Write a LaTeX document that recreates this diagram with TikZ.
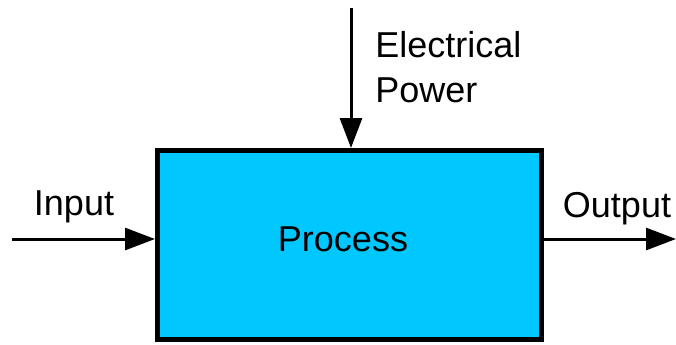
\documentclass[tikz,border=0pt]{standalone}
\usepackage{fontspec}
\setmainfont{Liberation Sans}
\usetikzlibrary{arrows.meta,positioning}
\definecolor{procblue}{RGB}{0,200,255}

\begin{document}
\begin{tikzpicture}[x=0.5pt,y=-0.5pt,
    process/.style={rectangle, draw, line width=2.5pt, fill=procblue,
                    minimum width=192pt, minimum height=94.5pt},
    arrow/.style={-{Triangle[length=15pt,width=11pt]}, line width=1.5pt},
    label/.style={font=\fontsize{18}{22.5}\selectfont, inner sep=0pt}
]
\useasboundingbox (0,0) rectangle (676,344);

% Process block
\node[process] (proc) at (349.5,245) {};
\node[label] (proctxt) at ([xshift=-3.25pt,yshift=3pt]proc.center) {Process};

% Free ends
\coordinate (pwr) at (351,8);
\coordinate (in) at (12,239);
\coordinate (out) at (676,239);

% Connections
\draw[arrow] (pwr) -- (pwr |- proc.north);
\draw[arrow] (in) -- (in -| proc.west);
\draw[arrow] (out -| proc.east) -- (out);

% Labels
\node[label, anchor=base] (inlbl) at (74,215) {Input};
\node[label, anchor=base] (outlbl) at (617,217) {Output};
\node[label, anchor=north west, align=left] (pwrlbl) at (375,31) {Electrical\\Power};

\end{tikzpicture}
\end{document}
